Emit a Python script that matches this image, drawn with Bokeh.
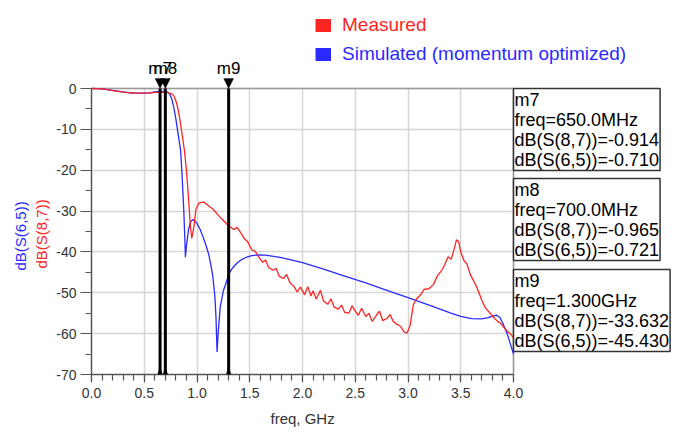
import math
from bokeh.plotting import figure
from bokeh.models import (Range1d, SingleIntervalTicker, NumeralTickFormatter, PrintfTickFormatter,
                          Label, Legend, LegendItem, PolyAnnotation, Title)
from bokeh.embed import file_html
from bokeh.resources import INLINE

# ---------------- data ----------------
meas_freq = [0.0, 0.05, 0.1, 0.15, 0.2, 0.25, 0.3, 0.35, 0.4, 0.45, 0.5, 0.55, 0.6, 0.65, 0.7,
             0.73, 0.76, 0.78, 0.80, 0.82, 0.84, 0.86, 0.88, 0.90, 0.92, 0.935, 0.95, 0.97, 0.99,
             1.02, 1.065, 1.10, 1.15, 1.20, 1.25, 1.30, 1.35, 1.38, 1.42, 1.45, 1.48, 1.52, 1.55,
             1.58, 1.62, 1.65, 1.68, 1.72, 1.75, 1.78, 1.82, 1.85, 1.88, 1.92, 1.95, 1.98, 2.02,
             2.05, 2.08, 2.10, 2.13, 2.17, 2.20, 2.24, 2.27, 2.30, 2.34, 2.37, 2.40, 2.44, 2.47,
             2.50, 2.53, 2.56, 2.60, 2.63, 2.66, 2.70, 2.73, 2.76, 2.80, 2.83, 2.86, 2.90, 2.93,
             2.96, 2.99, 3.02, 3.05, 3.08, 3.12, 3.15, 3.20, 3.24, 3.28, 3.32, 3.35, 3.38, 3.41,
             3.44, 3.46, 3.48, 3.50, 3.53, 3.56, 3.59, 3.62, 3.65, 3.68, 3.70, 3.73, 3.76, 3.78,
             3.82, 3.85, 3.88, 3.91, 3.94, 3.97, 4.00]
meas_db = [0.0, -0.02, -0.08, -0.25, -0.5, -0.7, -0.9, -1.0, -1.1, -1.15, -1.15, -1.1, -0.95,
           -0.914, -0.965, -1.05, -1.3, -1.8, -3.0, -5.0, -8.0, -11.5, -15.0, -20.0, -27.0, -33.0,
           -36.7, -34.0, -29.5, -28.0, -27.8, -28.5, -29.5, -31.0, -32.3, -33.632, -34.5, -34.0,
           -35.5, -36.8, -37.5, -39.5, -39.8, -41.0, -42.5, -42.0, -43.8, -44.5, -44.0, -46.0,
           -46.5, -45.5, -47.5, -48.5, -49.8, -48.6, -50.5, -48.5, -50.8, -49.5, -51.5, -49.4,
           -52.0, -52.8, -51.5, -53.5, -54.0, -53.0, -54.8, -55.0, -53.2, -54.5, -55.5, -53.8,
           -55.8, -55.0, -57.0, -55.5, -54.5, -56.8, -56.3, -55.3, -57.0, -57.8, -58.2, -59.5,
           -59.9, -58.0, -53.0, -51.5, -50.5, -49.2, -49.0, -48.0, -45.8, -44.5, -43.0, -41.2,
           -41.8, -39.0, -37.0, -37.5, -40.0, -42.1, -43.0, -45.5, -47.0, -48.5, -50.5, -51.9,
           -53.5, -54.5, -55.0, -56.3, -57.0, -57.5, -58.5, -59.4, -60.0, -61.0]

sim_freq = [0.0, 0.05, 0.1, 0.15, 0.2, 0.25, 0.3, 0.35, 0.4, 0.45, 0.5, 0.55, 0.6, 0.65, 0.7,
            0.72, 0.74, 0.76, 0.78, 0.80, 0.82, 0.845, 0.86, 0.875, 0.885, 0.89, 0.90, 0.92,
            0.94, 0.96, 0.98, 1.00, 1.03, 1.06, 1.09, 1.11, 1.13, 1.15, 1.17, 1.18, 1.19, 1.20,
            1.22, 1.25, 1.28, 1.30, 1.34, 1.38, 1.42, 1.47, 1.52, 1.58, 1.65, 1.8, 2.0, 2.2,
            2.4, 2.6, 2.8, 3.0, 3.2, 3.4, 3.5, 3.6, 3.7, 3.76, 3.80, 3.84, 3.87, 3.90, 3.94,
            3.97, 4.0]
sim_db = [0.0, -0.02, -0.08, -0.25, -0.45, -0.65, -0.85, -1.0, -1.1, -1.15, -1.15, -1.05,
          -0.85, -0.710, -0.721, -0.85, -1.3, -2.5, -4.6, -7.5, -11.0, -15.2, -22.0, -30.0,
          -37.0, -41.3, -38.5, -34.5, -32.6, -32.1, -32.4, -33.0, -34.5, -36.5, -38.8, -40.5,
          -43.0, -46.0, -51.0, -56.0, -64.5, -60.0, -53.5, -49.5, -47.3, -45.43, -43.8, -42.7,
          -41.9, -41.3, -40.9, -40.7, -40.8, -41.4, -42.6, -44.2, -45.9, -47.6, -49.4, -51.2,
          -53.0, -54.9, -55.8, -56.3, -56.4, -56.1, -55.7, -55.5, -56.0, -57.5, -60.0, -62.5,
          -65.0]

marker_names = ["m7", "m8", "m9"]
marker_freq = [0.65, 0.70, 1.30]
marker_freq_text = ["650.0MHz", "700.0MHz", "1.300GHz"]
marker_s87 = ["-0.914", "-0.965", "-33.632"]
marker_s65 = ["-0.710", "-0.721", "-45.430"]

series_names = ["Measured", "Simulated (momentum optimized)"]
x_label = "freq, GHz"
y_label_red = "dB(S(8,7))"
y_label_blue = "dB(S(6,5))"

# ---------------- layout / styles ----------------
RED = "#ff2424"
BLUE = "#2a2aff"
FONT = "Liberation Sans"
W, H = 676, 434
FL, FR, FT, FB = 91, 513, 88, 374          # axes box in page pixels
X0, X1, Y0, Y1 = 0.0, 4.0, -70.0, 0.0
px_x = (FR - FL) / (X1 - X0)
px_y = (FB - FT) / (Y1 - Y0)
X_END = X1 + (W - FR) / px_x                # frame extends to the right edge
Y_END = Y1 + FT / px_y                      # frame extends to the top edge

p = figure(width=W, height=H, output_backend="svg", toolbar_location=None,
           x_range=Range1d(X0, X_END), y_range=Range1d(Y0, Y_END),
           min_border_left=FL, min_border_right=0, min_border_top=0, min_border_bottom=H - FB)
p.background_fill_color = "white"
p.border_fill_color = "white"
p.outline_line_color = None

p.xaxis.ticker = SingleIntervalTicker(interval=0.5, num_minor_ticks=5)
p.yaxis.ticker = SingleIntervalTicker(interval=10, num_minor_ticks=2)
p.xgrid.ticker = p.xaxis.ticker
p.ygrid.ticker = p.yaxis.ticker
p.xaxis.formatter = NumeralTickFormatter(format="0.0")
p.yaxis.formatter = PrintfTickFormatter(format="%d")

for g in (p.xgrid, p.ygrid):
    g.grid_line_color = "#d6d6d6"
    g.grid_line_width = 1.5
p.xgrid.bounds = (X0, X1)
p.xgrid.cross_bounds = (Y0, Y1)
p.ygrid.bounds = (Y0, Y1)
p.ygrid.cross_bounds = (X0, X1)

for ax in (p.xaxis, p.yaxis):
    ax.axis_line_color = "#555555"
    ax.axis_line_width = 1.5
    ax.major_tick_line_color = "#555555"
    ax.minor_tick_line_color = "#555555"
    ax.major_tick_line_width = 1.2
    ax.minor_tick_line_width = 1.2
    ax.major_tick_in = 0
    ax.minor_tick_in = 0
    ax.major_label_text_font = FONT
    ax.major_label_text_font_size = "14px"
    ax.major_label_text_color = "#333333"

p.xaxis.major_tick_out = 8
p.xaxis.minor_tick_out = 6
p.xaxis.major_label_standoff = 5
p.xaxis.bounds = (X0, X1)
p.yaxis.major_tick_out = 11
p.yaxis.minor_tick_out = 6
p.yaxis.major_label_standoff = 4
p.yaxis.bounds = (Y0, Y1)

# axis titles (side titles so they can be positioned along the axes box)
p.add_layout(Title(text=x_label, align="left", offset=(FR - FL) / 2 - 32, standoff=14,
                   text_font=FONT, text_font_size="15px", text_font_style="normal",
                   text_color="#333333"), "below")
p.add_layout(Title(text=y_label_red, align="left", offset=106, standoff=8,
                   text_font=FONT, text_font_size="15px", text_font_style="normal",
                   text_color=RED), "left")
p.add_layout(Title(text=y_label_blue, align="left", offset=104, standoff=-4,
                   text_font=FONT, text_font_size="15px", text_font_style="normal",
                   text_color=BLUE), "left")

# frame edges (top and right) of the axes box
p.segment(x0=[X0, X1], y0=[Y1, Y1], x1=[X1, X1], y1=[Y1, Y0], line_color="#9a9a9a",
          line_width=1.5)

# curves
p.line(sim_freq, sim_db, line_color=BLUE, line_width=1.3)
p.line(meas_freq, meas_db, line_color=RED, line_width=1.3)

# marker lines, triangles and names
p.segment(x0=marker_freq, y0=[Y0] * 3, x1=marker_freq, y1=[Y1] * 3,
          line_color="black", line_width=3)
half_w = 5 / px_x
for f, name in zip(marker_freq, marker_names):
    p.add_layout(PolyAnnotation(xs=[f - half_w, f + half_w, f],
                                ys=[Y1 + 10 / px_y, Y1 + 10 / px_y, Y1],
                                fill_color="black", fill_alpha=1, line_color="black", line_width=1))
    p.add_layout(PolyAnnotation(xs=[f - half_w, f + half_w, f],
                                ys=[Y0 - 9 / px_y, Y0 - 9 / px_y, Y0 + 8 / px_y],
                                fill_color="black", fill_alpha=1, line_color="black", line_width=1))
    p.add_layout(Label(x=f, y=Y1 + 20 / px_y, text=name, text_align="center",
                       text_baseline="middle", text_font=FONT, text_font_size="17px",
                       text_color="black"))

# marker readout boxes
box_tops = [Y1, Y1 - 90 / px_y, Y1 - 181 / px_y]
for i in range(3):
    txt = (f"{marker_names[i]}\nfreq={marker_freq_text[i]}\n"
           f"dB(S(8,7))={marker_s87[i]}\ndB(S(6,5))={marker_s65[i]}")
    p.add_layout(Label(x=X1, y=box_tops[i], text=txt, anchor="top_left",
                       text_align="left", text_baseline="top", text_font=FONT,
                       text_font_size="18px", text_line_height=1.0, text_color="black",
                       border_line_color="#333333", border_line_width=1.5,
                       background_fill_color="white", padding=1))

# legend (two single-item legends so each label keeps its own colour)
nan = float("nan")
sw_meas = p.line([nan], [nan], line_color=RED, line_width=13, line_cap="butt")
sw_sim = p.line([nan], [nan], line_color=BLUE, line_width=13, line_cap="butt")
for sw, lab, col, ypos in ((sw_meas, series_names[0], RED, 338),
                           (sw_sim, series_names[1], BLUE, 309)):
    lg = Legend(items=[LegendItem(label=lab, renderers=[sw])], location=(224, ypos),
                glyph_width=16, glyph_height=16, label_standoff=11, padding=0, margin=0,
                spacing=0, border_line_color=None, background_fill_alpha=0,
                label_text_font=FONT, label_text_font_size="19px", label_text_color=col)
    p.add_layout(lg)

open("out.html", "w").write(file_html(p, INLINE))
